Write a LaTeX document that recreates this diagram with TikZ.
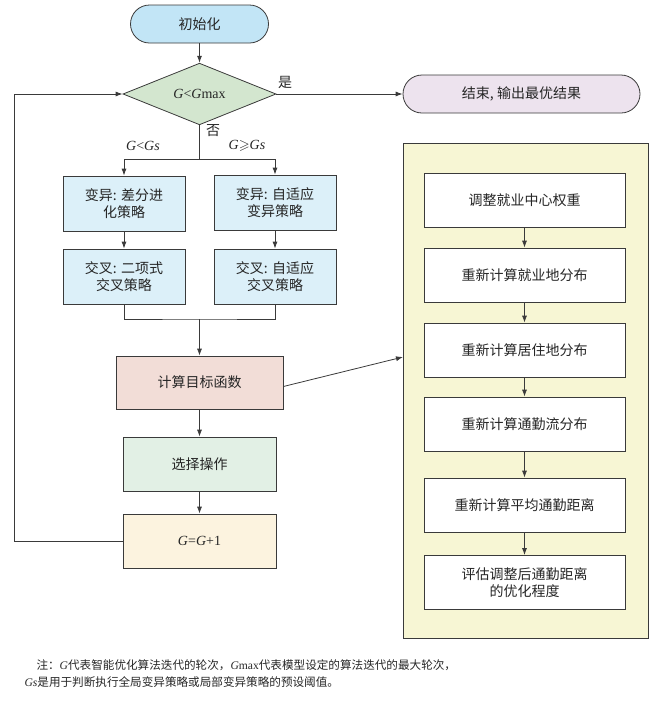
\documentclass[tikz,border=0pt]{standalone}
\usepackage{fontspec}
\usepackage{amssymb}
\setmainfont{Liberation Serif}
\newfontfamily\cjk{Noto Sans CJK SC}
\usetikzlibrary{shapes.geometric,arrows.meta}

\definecolor{lineC}{HTML}{3A3A3A}
\definecolor{cInit}{HTML}{C2E5F6}
\definecolor{cCond}{HTML}{D3E6CF}
\definecolor{cFin}{HTML}{EDE3EE}
\definecolor{cMut}{HTML}{DCF0F9}
\definecolor{cObj}{HTML}{F2DDD7}
\definecolor{cSel}{HTML}{E2F0E5}
\definecolor{cInc}{HTML}{FCF3DF}
\definecolor{cPanel}{HTML}{F7F6D4}

\tikzstyle{every node}=[font=\cjk\fontsize{14}{17}\selectfont, text=black!85]
\tikzstyle{term}=[rectangle, rounded corners=19pt, draw=lineC, line width=0.8pt, minimum height=38pt]
\tikzstyle{box}=[rectangle, draw=lineC, line width=0.8pt, minimum width=122pt, minimum height=55pt, align=center]
\tikzstyle{stepbox}=[rectangle, draw=lineC, line width=0.8pt, fill=white, minimum width=201pt, minimum height=54pt, align=center]
\tikzstyle{arr}=[-{Latex[length=7pt,width=5pt]}, draw=lineC, line width=0.8pt]
\tikzstyle{ln}=[draw=lineC, line width=0.8pt]

\begin{document}
\begin{tikzpicture}[x=1pt,y=-1pt]
    \useasboundingbox (0,0) rectangle (661,705);
    % main loop
    \node[term, fill=cInit, minimum width=138pt] (init) at (199.5,24) {初始化};
    \node[diamond, draw=lineC, line width=0.8pt, fill=cCond, inner sep=0pt,
          minimum width=153pt, minimum height=59pt] (cond) at (199.5,94)
          {{\rmfamily\textit{G}<\textit{G}max}};
    \node[term, fill=cFin, minimum width=237pt] (fin) at (521.5,94) {结束, 输出最优结果};
    \node[box, fill=cMut] (mutL) at (124,203.5) {变异: 差分进\\化策略};
    \node[box, fill=cMut] (mutR) at (275,202.5) {变异: 自适应\\变异策略};
    \node[box, fill=cMut] (crsL) at (124,276.5) {交叉: 二项式\\交叉策略};
    \node[box, fill=cMut] (crsR) at (275,276.5) {交叉: 自适应\\交叉策略};
    \node[box, fill=cObj, minimum width=167pt, minimum height=53pt] (obj) at (199.5,382.5) {计算目标函数};
    \node[box, fill=cSel, minimum width=153pt, minimum height=54pt] (sel) at (199.5,464) {选择操作};
    \node[box, fill=cInc, minimum width=153pt, minimum height=54pt] (inc) at (199.5,541)
          {{\rmfamily\textit{G}=\textit{G}+1}};

    % labels
    \node (yes) at (285,82) {是};
    \node (no) at (213,131) {否};
    \node (lt) at (143,146) {{\rmfamily\textit{G}<\textit{Gs}}};
    \node (ge) at (247,146) {{\rmfamily\textit{G}$\geqslant$\textit{Gs}}};

    % right panel
    \node[rectangle, draw=lineC, line width=0.8pt, fill=cPanel,
          minimum width=245pt, minimum height=495pt] (panel) at (525.5,390.5) {};
    \node[stepbox] (r1) at (524.5,200) {调整就业中心权重};
    \node[stepbox] (r2) at (524.5,275) {重新计算就业地分布};
    \node[stepbox] (r3) at (524.5,350) {重新计算居住地分布};
    \node[stepbox] (r4) at (524.5,424) {重新计算通勤流分布};
    \node[stepbox] (r5) at (524.5,505) {重新计算平均通勤距离};
    \node[stepbox] (r6) at (524.5,582.5) {评估调整后通勤距离\\的优化程度};

    \coordinate (br) at (199.5,159);
    \coordinate (mg) at (199.5,319);
    \coordinate (lp) at (14,94);
    \coordinate (pin) at (403,357);

    \draw[arr] (init) -- (cond);
    \draw[arr] (cond) -- (fin);
    \draw[ln] (cond) -- (br);
    \draw[arr] (br) -| (mutL);
    \draw[arr] (br) -| (mutR);
    \draw[arr] (mutL) -- (crsL);
    \draw[arr] (mutR) -- (crsR);
    \draw[ln] (crsL) |- (mg) -| (crsR);
    \draw[arr] (mg) -- (obj);
    \draw[arr] (obj) -- (sel);
    \draw[arr] (sel) -- (inc);
    \draw[arr] (inc.west) -| (lp) -- (cond.west);
    \draw[arr] ([yshift=-4pt]obj.east) -- (pin);
    \draw[arr] (r1) -- (r2);
    \draw[arr] (r2) -- (r3);
    \draw[arr] (r3) -- (r4);
    \draw[arr] (r4) -- (r5);
    \draw[arr] (r5) -- (r6);

    % note
    \node[anchor=west, font=\cjk\fontsize{11.6}{16}\selectfont] (note1) at (33,665)
      {注：{\rmfamily\textit{G}}代表智能优化算法迭代的轮次，{\rmfamily\textit{G}max}代表模型设定的算法迭代的最大轮次，};
    \node[anchor=west, font=\cjk\fontsize{11.6}{16}\selectfont] (note2) at (21,682)
      {{\rmfamily\textit{Gs}}是用于判断执行全局变异策略或局部变异策略的预设阈值。};
\end{tikzpicture}
\end{document}
